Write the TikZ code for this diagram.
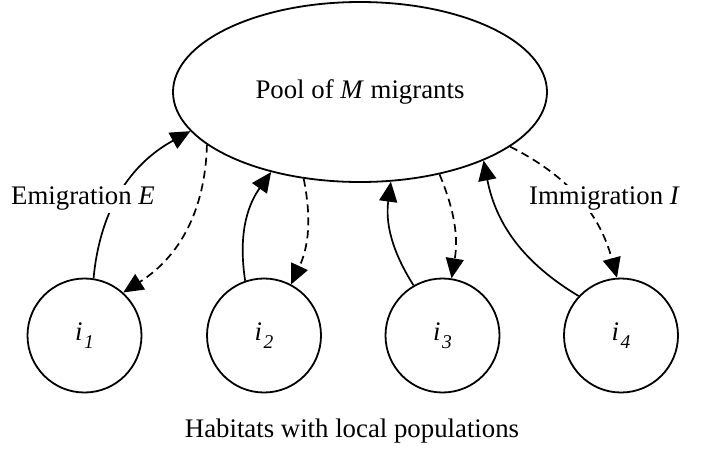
\documentclass[tikz,border=0pt]{standalone}
\usepackage{fontspec}
\setmainfont{Liberation Serif}
\usetikzlibrary{arrows.meta,shapes.geometric}
\newcommand\habsub[1]{\textit{i}\kern1.5pt\raisebox{-8pt}{\fontsize{19.5pt}{20pt}\selectfont\textit{#1}}}
\begin{document}
\begin{tikzpicture}[x=1pt,y=-1pt,
  txt/.style={font=\fontsize{26.8pt}{32pt}\selectfont},
  poolbox/.style={ellipse,draw,line width=1.8pt,minimum width=374pt,minimum height=180pt,inner sep=0pt,txt},
  hab/.style={circle,draw,line width=1.8pt,minimum size=114pt,inner sep=0pt,txt},
  emi/.style={line width=1.7pt,-{Triangle[length=20pt,width=18pt]}},
  imm/.style={emi,dash pattern=on 8pt off 5pt},
  lab/.style={txt,fill=white,inner sep=2pt}]
\useasboundingbox (0,0) rectangle (704,448);
\node[poolbox] (pool) at (360,92) {Pool of \textit{M} migrants};
\node[hab] (h1) at (84.5,335.5) {\habsub{1}};
\node[hab] (h2) at (264,335.5) {\habsub{2}};
\node[hab] (h3) at (442.5,335.5) {\habsub{3}};
\node[hab] (h4) at (621,335.5) {\habsub{4}};
% emigration (solid)
\draw[emi] (h1.81) to[bend left=28] (pool.193);
\draw[emi] (h2.109) to[bend left=22] (pool.222);
\draw[emi] (h3.120) to[bend left=20] (pool.289);
\draw[emi] (h4.137) to[bend left=24] (pool.331);
% immigration (dashed)
\draw[imm] (pool.199) to[bend left=28] (h1.48);
\draw[imm] (pool.237) to[bend left=18] (h2.62);
\draw[imm] (pool.314) to[bend left=16] (h3.81);
\draw[imm] (pool.340) to[bend left=24] (h4.94);
% labels
\node[lab] (le) at (83,199) {Emigration \textit{E}};
\node[lab] (li) at (604.5,199) {Immigration \textit{I}};
\node[txt,inner sep=0pt] (hl) at (352,431) {Habitats with local populations};
\end{tikzpicture}
\end{document}
